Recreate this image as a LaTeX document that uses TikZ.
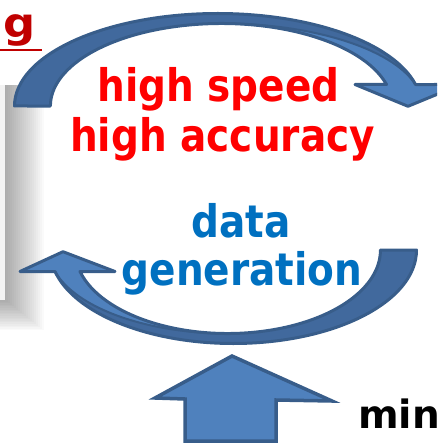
\documentclass[tikz,border=0pt]{standalone}
\usepackage{fontspec}
\setmainfont{DejaVu Sans}
\usepackage{graphicx}
\definecolor{arrowfill}{HTML}{4F81BD}
\definecolor{arrowback}{HTML}{41699D}
\definecolor{arrowline}{HTML}{385D8A}
\definecolor{headred}{HTML}{C00000}
\definecolor{keyred}{HTML}{FF0000}
\definecolor{keyblue}{HTML}{0070C0}
\newcommand{\tall}[1]{\scalebox{1}[1.15]{#1}}
\begin{document}
\begin{tikzpicture}[x=1pt,y=-1pt,
  bigtext/.style={font=\fontsize{39}{46}\selectfont\bfseries, inner sep=0pt, anchor=base},
  arrowoutline/.style={draw=arrowline, line width=3pt, line join=round},
  frontedge/.style={draw=arrowline, line width=2pt}]
\useasboundingbox (0,0) rectangle (437,446);
\clip (0,0) rectangle (437,446);

% side panel with its soft drop shadow
\foreach \i in {0,...,19}
  \fill[black, opacity=0.02] (-40,85) rectangle ({6+2*\i},{300+1.6*\i});
\fill[black!5] (-40,85) rectangle (5,300);

% upper curved arrow: back band (darker) and front band with head
\fill[arrowback] (14.5,106)
  arc[start angle=180, end angle=346.56, x radius=203.3, y radius=92.5]
  arc[start angle=344.89, end angle=270, x radius=201, y radius=82.5]
  arc[start angle=270, end angle=180, x radius=171, y radius=82.5] -- cycle;
\fill[arrowfill] (221.5,23.5)
  arc[start angle=270, end angle=344.89, x radius=201, y radius=82.5]
  -- (461,84.5) -- (408,106.3) -- (355,84.5) -- (386.5,84.5)
  arc[start angle=344.89, end angle=270, x radius=171, y radius=82.5] -- cycle;
\path[frontedge] (221.5,23.5)
  arc[start angle=270, end angle=344.89, x radius=201, y radius=82.5];
\path[arrowoutline] (14.5,106)
  arc[start angle=180, end angle=346.56, x radius=203.3, y radius=92.5]
  -- (461,84.5) -- (408,106.3) -- (355,84.5) -- (386.5,84.5)
  arc[start angle=344.89, end angle=180, x radius=171, y radius=82.5] -- cycle;

% lower curved arrow: back band (darker) and front band with head
\fill[arrowback] (416.5,250)
  arc[start angle=0, end angle=166.7, x radius=183.2, y radius=93.5]
  arc[start angle=165.08, end angle=90, x radius=178.7, y radius=83.5]
  arc[start angle=90, end angle=0, x radius=152.8, y radius=83.5] -- cycle;
\fill[arrowfill] (227.7,333.5)
  arc[start angle=90, end angle=165.08, x radius=178.7, y radius=83.5]
  -- (20,271.5) -- (63,251.7) -- (115,271.5) -- (80,271.5)
  arc[start angle=165.08, end angle=90, x radius=152.8, y radius=83.5] -- cycle;
\path[frontedge] (227.7,333.5)
  arc[start angle=90, end angle=165.08, x radius=178.7, y radius=83.5];
\path[arrowoutline] (416.5,250)
  arc[start angle=0, end angle=166.7, x radius=183.2, y radius=93.5]
  -- (20,271.5) -- (63,251.7) -- (115,271.5) -- (80,271.5)
  arc[start angle=165.08, end angle=0, x radius=152.8, y radius=83.5] -- cycle;

% block arrow pointing up into the cycle
\path[arrowoutline, fill=arrowfill, line width=3.5pt, line join=miter]
  (232,356) -- (332,401) -- (276,400) -- (276,441) -- (185,441)
  -- (185,399) -- (155,398) -- cycle;

% labels
\node[bigtext, text=keyred] (speed) at (218.5,102) {\tall{high speed}};
\node[bigtext, text=keyred] (accuracy) at (222.5,152) {\tall{high accuracy}};
\node[bigtext, text=keyblue] (data) at (241,237) {\tall{data}};
\node[bigtext, text=keyblue] (generation) at (242,285) {\tall{generation}};
\node[font=\fontsize{39}{46}\selectfont\bfseries, inner sep=0pt, anchor=base west] (mini) at (358,428) {min};
\node[font=\fontsize{39}{46}\selectfont\bfseries, text=headred, inner sep=0pt, anchor=base east] (heading) at (36,38) {\scalebox{1.15}[1.05]{g}};
\draw[headred, line width=2.8pt] (0,50) -- (42,50);
\end{tikzpicture}
\end{document}
